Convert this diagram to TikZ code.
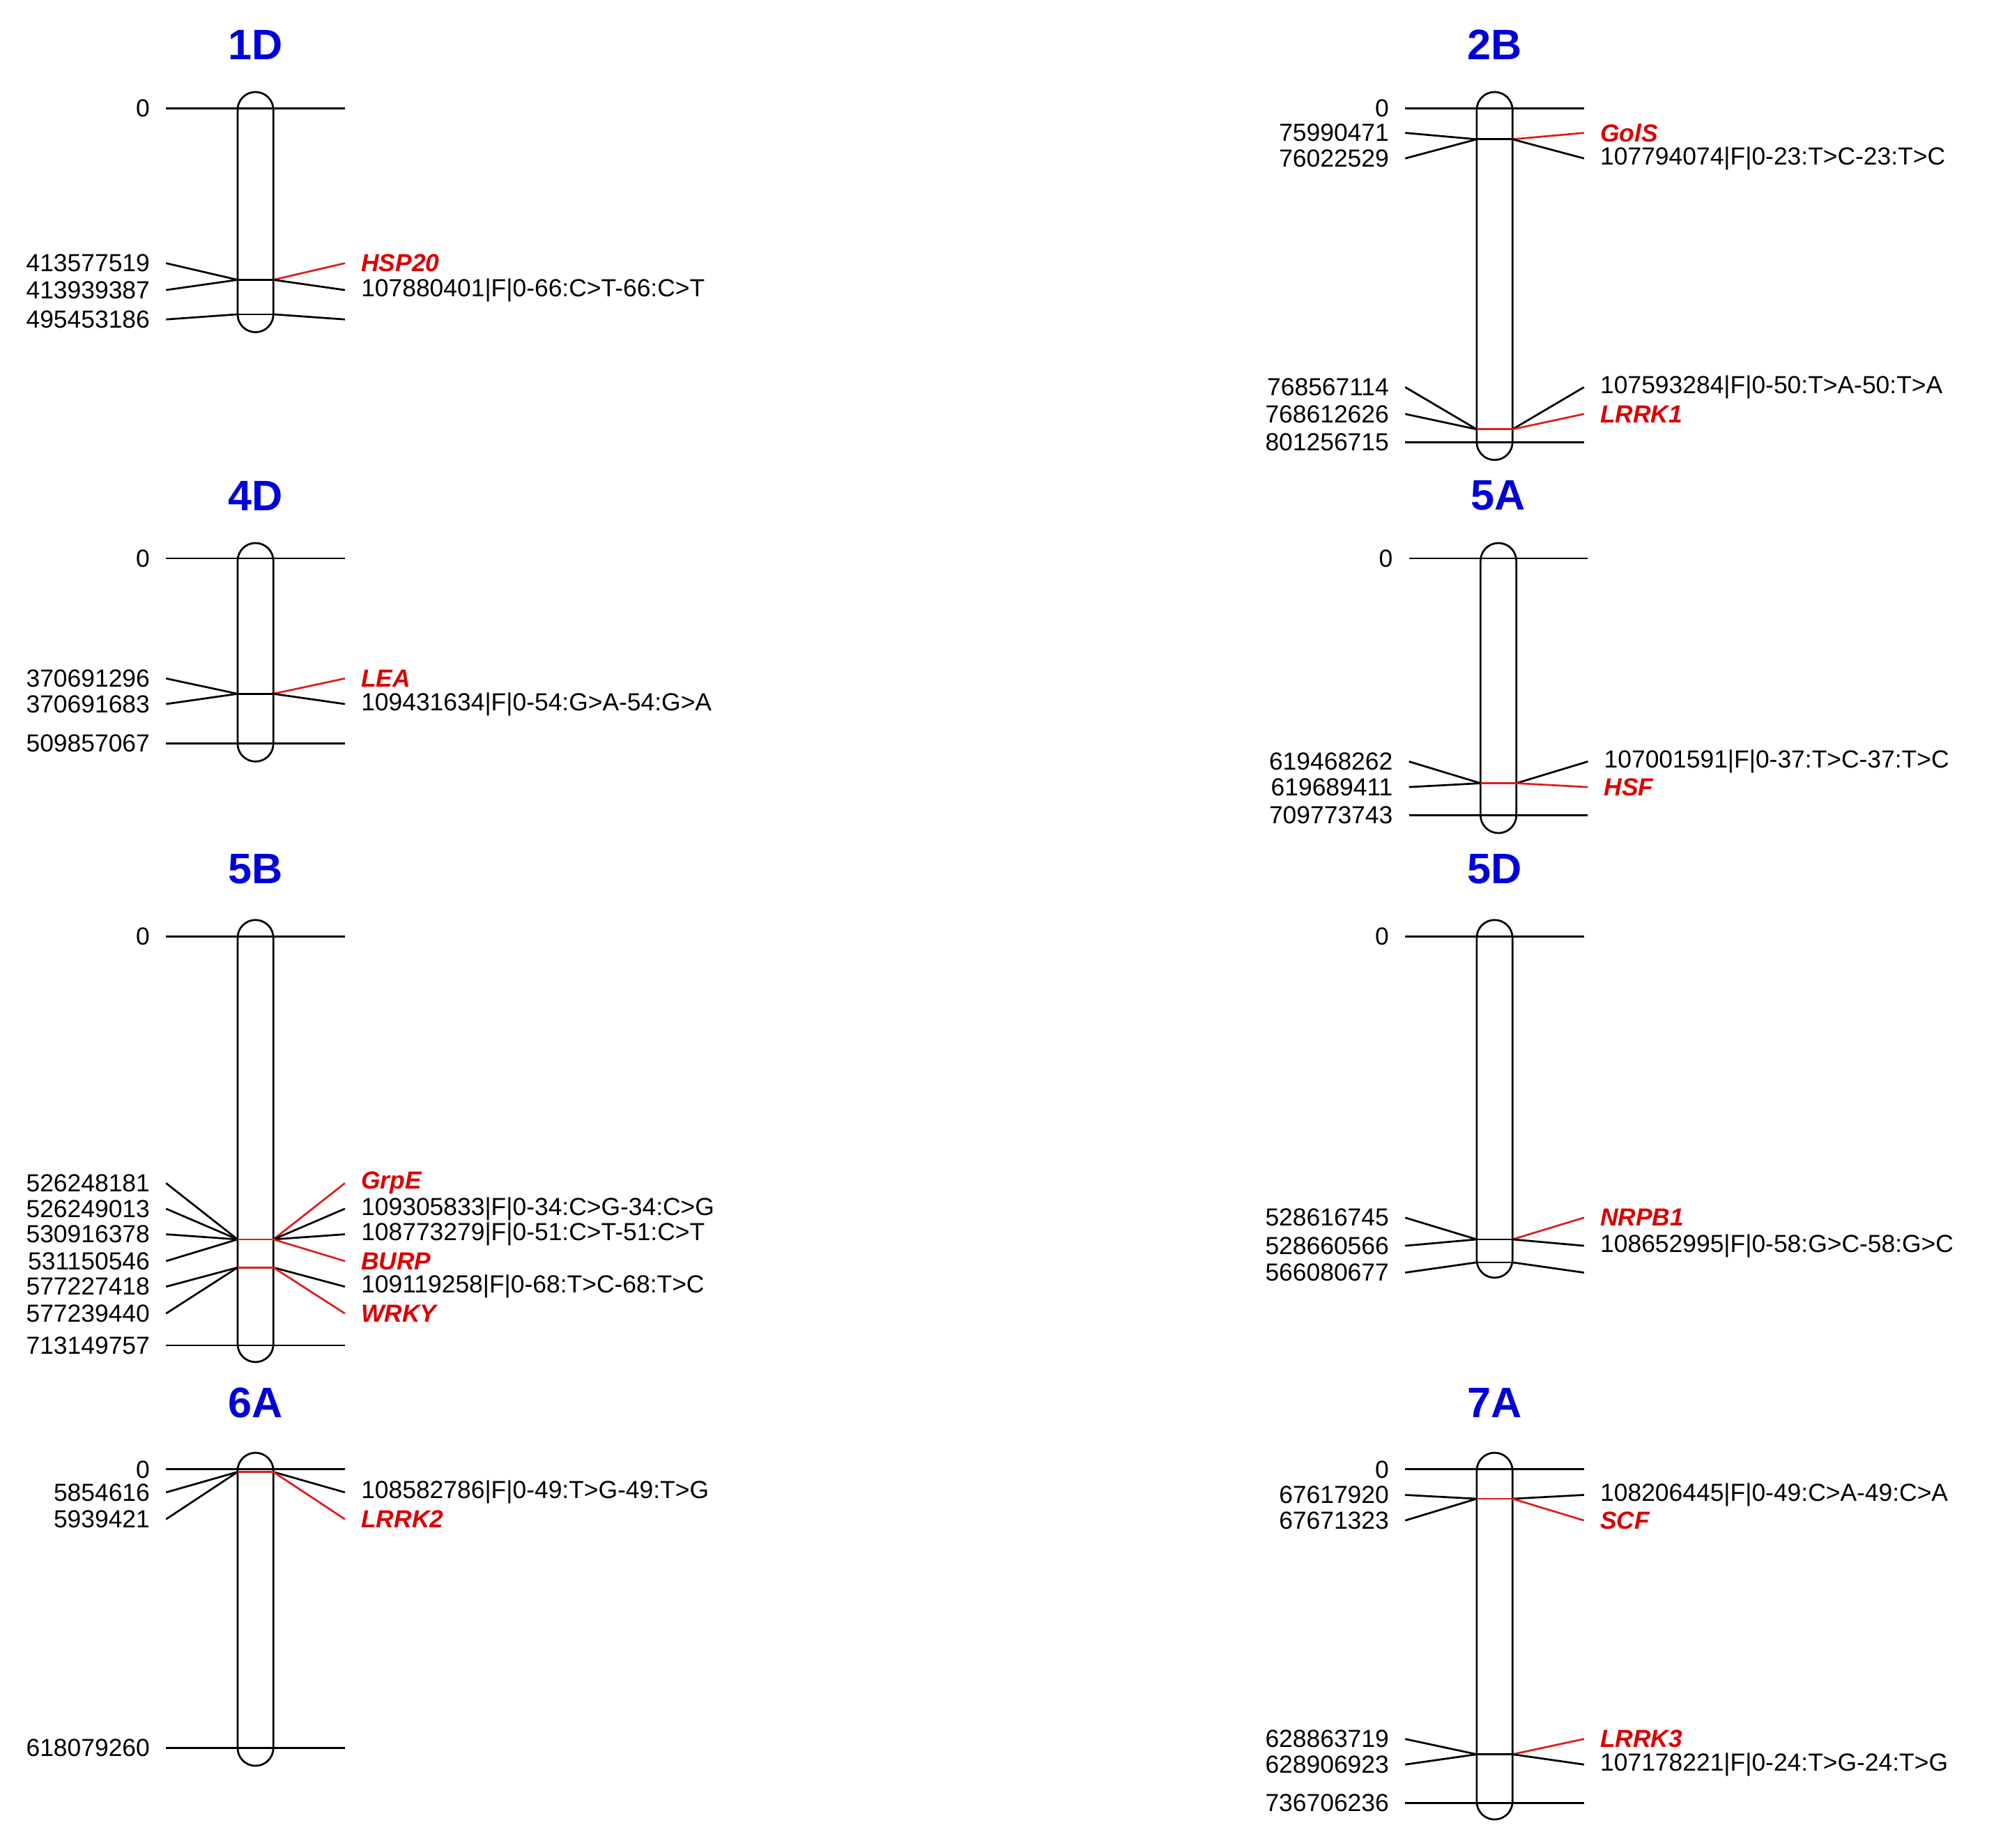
\documentclass[tikz,border=0pt]{standalone}
\usepackage{fontspec}
\setmainfont{Liberation Sans}
\begin{document}
\begin{tikzpicture}[x=0.02cm,y=-0.02cm,line width=0.85pt,
  lab/.style={font=\fontsize{11}{12}\selectfont,inner sep=0pt},
  ttl/.style={font=\fontsize{19}{21}\selectfont\bfseries,text=blue!85!black},
  gene/.style={text=red!85!black,font=\fontsize{11}{12}\selectfont\bfseries\itshape}]
\definecolor{mred}{RGB}{220,30,30}
\useasboundingbox (0,0) rectangle (1568,1446);
\newcommand{\chromx}[5]{%
  \node[ttl] at (#1,#4) {#5};
  \draw[rounded corners=0.28cm] (#1-14,#2) rectangle (#1+14,#3);}
\newcommand{\hlnx}[3]{%
  \draw (#1-70,#2) -- (#1+70,#2);
  \node[lab,anchor=east] at (#1-82,#2) {#3};}
\newcommand{\mkbar}[3]{\draw[#3] (#1-14,#2) -- (#1+14,#2);}
\newcommand{\lmk}[4]{%
  \draw (#1-70,#3) -- (#1-14,#2);
  \node[lab,anchor=east] at (#1-82,#3) {#4};}
\newcommand{\rblk}[4]{%
  \draw (#1+14,#2) -- (#1+70,#3);
  \node[lab,anchor=west] at (#1+82,#3) {#4};}
\newcommand{\rgene}[4]{%
  \draw[mred] (#1+14,#2) -- (#1+70,#3);
  \node[lab,gene,anchor=west] at (#1+82,#3) {#4};}
% 1D
\chromx{200}{72}{260}{35}{1D}
\hlnx{200}{85}{0}
\mkbar{200}{219}{black}
\lmk{200}{219}{206}{413577519}\lmk{200}{219}{227}{413939387}
\rgene{200}{219}{206}{HSP20}\rblk{200}{219}{227}{107880401|F|0-66:C>T-66:C>T}
\mkbar{200}{246}{black}
\lmk{200}{246}{250}{495453186}\draw (214,246) -- (270,250);
% 2B
\chromx{1170}{72}{360}{35}{2B}
\hlnx{1170}{85}{0}
\mkbar{1170}{109}{black}
\lmk{1170}{109}{104}{75990471}\lmk{1170}{109}{124}{76022529}
\rgene{1170}{109}{104}{GolS}\rblk{1170}{109}{124}{107794074|F|0-23:T>C-23:T>C}
\mkbar{1170}{336}{mred}
\lmk{1170}{336}{303}{768567114}\lmk{1170}{336}{324}{768612626}
\rblk{1170}{336}{303}{107593284|F|0-50:T>A-50:T>A}\rgene{1170}{336}{324}{LRRK1}
\hlnx{1170}{346}{801256715}
% 4D
\chromx{200}{425}{596}{388}{4D}
\hlnx{200}{437}{0}
\mkbar{200}{543}{black}
\lmk{200}{543}{531}{370691296}\lmk{200}{543}{551}{370691683}
\rgene{200}{543}{531}{LEA}\rblk{200}{543}{551}{109431634|F|0-54:G>A-54:G>A}
\hlnx{200}{582}{509857067}
% 5A
\chromx{1173}{425}{652}{388}{5A}
\hlnx{1173}{437}{0}
\mkbar{1173}{613}{mred}
\lmk{1173}{613}{596}{619468262}\lmk{1173}{613}{616}{619689411}
\rblk{1173}{613}{596}{107001591|F|0-37:T>C-37:T>C}\rgene{1173}{613}{616}{HSF}
\hlnx{1173}{638}{709773743}
% 5B
\chromx{200}{720}{1066}{680}{5B}
\hlnx{200}{733}{0}
\mkbar{200}{970}{mred}
\lmk{200}{970}{926}{526248181}\lmk{200}{970}{946}{526249013}
\lmk{200}{970}{966}{530916378}\lmk{200}{970}{987}{531150546}
\rgene{200}{970}{926}{GrpE}\rblk{200}{970}{946}{109305833|F|0-34:C>G-34:C>G}
\rblk{200}{970}{966}{108773279|F|0-51:C>T-51:C>T}\rgene{200}{970}{987}{BURP}
\mkbar{200}{992}{mred}
\lmk{200}{992}{1007}{577227418}\lmk{200}{992}{1028}{577239440}
\rblk{200}{992}{1007}{109119258|F|0-68:T>C-68:T>C}\rgene{200}{992}{1028}{WRKY}
\hlnx{200}{1053}{713149757}
% 5D
\chromx{1170}{720}{1000}{680}{5D}
\hlnx{1170}{733}{0}
\mkbar{1170}{970}{black}
\lmk{1170}{970}{953}{528616745}\lmk{1170}{970}{975}{528660566}
\rgene{1170}{970}{953}{NRPB1}\rblk{1170}{970}{975}{108652995|F|0-58:G>C-58:G>C}
\mkbar{1170}{988}{black}
\lmk{1170}{988}{996}{566080677}\draw (1184,988) -- (1240,996);
% 6A
\chromx{200}{1137}{1382}{1098}{6A}
\hlnx{200}{1150}{0}
\mkbar{200}{1152}{mred}
\lmk{200}{1152}{1168}{5854616}\lmk{200}{1152}{1189}{5939421}
\rblk{200}{1152}{1168}{108582786|F|0-49:T>G-49:T>G}\rgene{200}{1152}{1189}{LRRK2}
\hlnx{200}{1368}{618079260}
% 7A
\chromx{1170}{1137}{1424}{1098}{7A}
\hlnx{1170}{1150}{0}
\mkbar{1170}{1173}{mred}
\lmk{1170}{1173}{1170}{67617920}\lmk{1170}{1173}{1190}{67671323}
\rblk{1170}{1173}{1170}{108206445|F|0-49:C>A-49:C>A}\rgene{1170}{1173}{1190}{SCF}
\mkbar{1170}{1373}{black}
\lmk{1170}{1373}{1361}{628863719}\lmk{1170}{1373}{1381}{628906923}
\rgene{1170}{1373}{1361}{LRRK3}\rblk{1170}{1373}{1381}{107178221|F|0-24:T>G-24:T>G}
\hlnx{1170}{1411}{736706236}
\end{tikzpicture}
\end{document}
